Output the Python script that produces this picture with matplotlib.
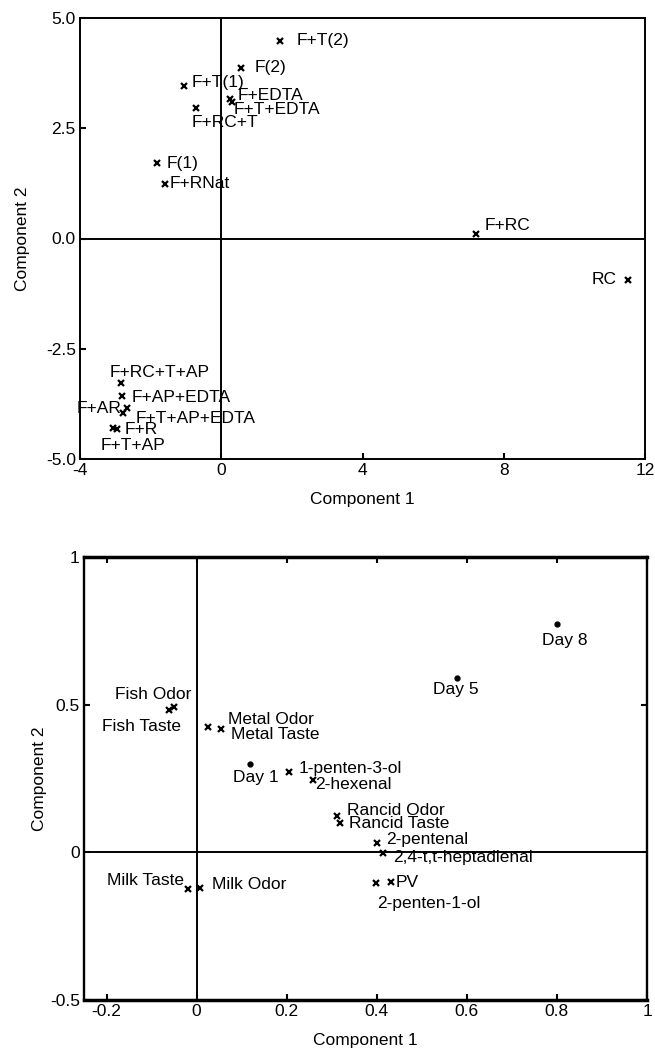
import matplotlib
matplotlib.use("Agg")
import matplotlib.pyplot as plt

plt.rcParams["font.family"] = ["Liberation Sans", "DejaVu Sans"]
plt.rcParams["font.size"] = 12

# ---- top panel: samples ----
top_names = ["F+T(2)", "F(2)", "F+T(1)", "F+EDTA", "F+T+EDTA", "F+RC+T", "F(1)", "F+RNat",
             "F+RC", "RC", "F+RC+T+AP", "F+AP+EDTA", "F+AR", "F+T+AP+EDTA", "F+R", "F+T+AP"]
top_x = [1.66, 0.56, -1.05, 0.25, 0.30, -0.71, -1.82, -1.59,
         7.21, 11.52, -2.84, -2.81, -2.67, -2.78, -2.95, -3.07]
top_y = [4.48, 3.87, 3.46, 3.16, 3.10, 2.96, 1.71, 1.24,
         0.10, -0.94, -3.28, -3.57, -3.84, -3.96, -4.32, -4.30]
# label offsets in pixels (dx, dy) and alignment
top_off = [(17, 0), (14, 0), (7, 3), (8, 4), (2, -8), (-5, -15), (10, 0), (5, 0),
           (9, 9), (-11, 0), (-11, 11), (10, -2), (-5, -1), (13, -5), (8, 0), (-12, -17)]
top_ha = ["left"] * 9 + ["right", "left", "left", "right", "left", "left", "left"]

# ---- bottom panel: attributes (x) and days (dots) ----
attr_names = ["Fish Odor", "Fish Taste", "Metal Odor", "Metal Taste", "1-penten-3-ol", "2-hexenal",
              "Rancid Odor", "Rancid Taste", "2-pentenal", "2,4-t,t-heptadienal", "2-penten-1-ol",
              "PV", "Milk Taste", "Milk Odor"]
attr_x = [-0.050, -0.061, 0.025, 0.054, 0.205, 0.258, 0.312, 0.318, 0.400, 0.414, 0.398,
          0.432, -0.019, 0.008]
attr_y = [0.492, 0.482, 0.424, 0.418, 0.272, 0.245, 0.123, 0.099, 0.031, -0.002, -0.104,
          -0.101, -0.124, -0.121]
attr_off = [(17, 13), (12, -17), (20, 8), (10, -6), (10, 4), (2, -5), (10, 6), (9, 0),
            (9, 4), (10, -5), (1, -20), (4, 0), (-4, 8), (12, 4)]
attr_ha = ["right", "right"] + ["left"] * 10 + ["right", "left"]

day_names = ["Day 1", "Day 5", "Day 8"]
day_x = [0.119, 0.578, 0.800]
day_y = [0.299, 0.590, 0.773]
day_off = [(6, -13), (-1, -11), (8, -16)]

fig = plt.figure(figsize=(6.55, 10.49), dpi=100)

def style(ax, lw):
    for s in ax.spines.values():
        s.set_linewidth(lw)
    ax.axhline(0, color="black", lw=1.4, zorder=1)
    ax.axvline(0, color="black", lw=1.4, zorder=1)
    ax.tick_params(direction="in", length=4, width=1.5, labelsize=12.5, pad=3)

def label(ax, names, xs, ys, offs, has):
    for n, x, y, (dx, dy), ha in zip(names, xs, ys, offs, has):
        ax.annotate(n, (x, y), xytext=(dx, dy), textcoords="offset pixels",
                    ha=ha, va="center", fontsize=12.5)

# top
ax1 = fig.add_axes([80/655, 1-459/1049, 565/655, 441/1049])
style(ax1, 1.4)
ax1.plot(top_x, top_y, "x", color="black", ms=4, mew=1.6, ls="none", zorder=3)
label(ax1, top_names, top_x, top_y, top_off, top_ha)
ax1.set_xlim(-4, 12)
ax1.set_ylim(-5, 5)
ax1.set_xticks([-4, 0, 4, 8, 12])
ax1.set_xticklabels(["-4", "0", "4", "8", "12"])
ax1.set_yticks([-5, -2.5, 0, 2.5, 5])
ax1.set_yticklabels(["-5.0", "-2.5", "0.0", "2.5", "5.0"])
ax1.set_xlabel("Component 1", fontsize=12.5)
ax1.set_ylabel("Component 2", fontsize=12.5)
ax1.xaxis.set_label_coords(0.5, -0.075)
ax1.yaxis.set_label_coords(-0.088, 0.5)

# bottom
ax2 = fig.add_axes([84/655, 1-1000/1049, 563/655, 443/1049])
style(ax2, 1.7)
ax2.spines["top"].set_linewidth(2.5)
ax2.spines["bottom"].set_linewidth(2.5)
ax2.tick_params(top=True, right=True)
ax2.plot(attr_x, attr_y, "x", color="black", ms=4, mew=1.6, ls="none", zorder=3)
ax2.plot(day_x, day_y, "o", color="black", ms=3.5, ls="none", zorder=3)
label(ax2, attr_names, attr_x, attr_y, attr_off, attr_ha)
label(ax2, day_names, day_x, day_y, day_off, ["center"] * 3)
ax2.set_xlim(-0.25, 1)
ax2.set_ylim(-0.5, 1)
ax2.set_xticks([-0.2, 0, 0.2, 0.4, 0.6, 0.8, 1])
ax2.set_xticklabels(["-0.2", "0", "0.2", "0.4", "0.6", "0.8", "1"])
ax2.set_yticks([-0.5, 0, 0.5, 1])
ax2.set_yticklabels(["-0.5", "0", "0.5", "1"])
ax2.set_xlabel("Component 1", fontsize=12.5)
ax2.set_ylabel("Component 2", fontsize=12.5)
ax2.xaxis.set_label_coords(0.5, -0.075)
ax2.yaxis.set_label_coords(-0.066, 0.5)

fig.savefig("out.png", dpi=100)
